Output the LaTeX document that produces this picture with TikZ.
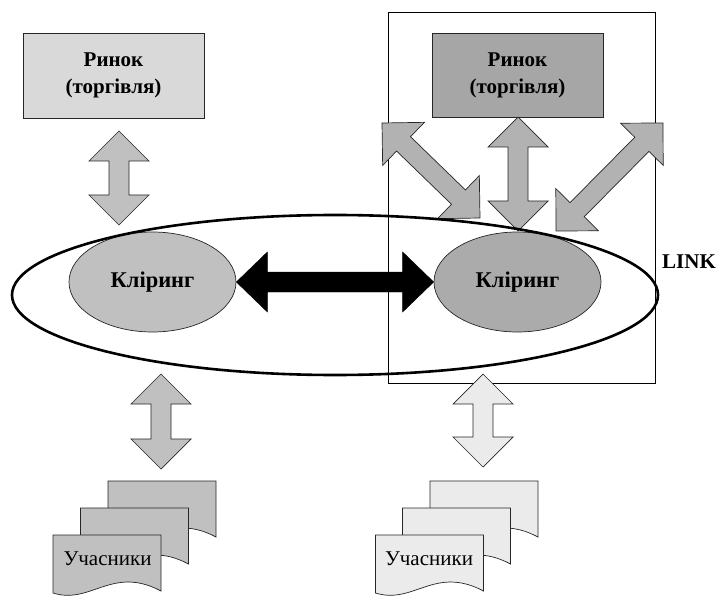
\documentclass[tikz,border=0pt]{standalone}
\usepackage{fontspec}
\setmainfont{Liberation Serif}
\usetikzlibrary{calc,shapes.geometric}
\definecolor{boxL}{HTML}{D9D9D9}
\definecolor{grayL}{HTML}{C0C0C0}
\definecolor{boxR}{HTML}{A6A6A6}
\definecolor{ellR}{HTML}{ABABAB}
\definecolor{arrR}{HTML}{B2B2B2}
\definecolor{lightR}{HTML}{EBEBEB}
\tikzset{
  outl/.style={draw=black!85, line width=0.7pt},
  market/.style={outl, rectangle, minimum width=181pt, minimum height=85pt, align=center, inner sep=0pt,
     font=\fontsize{21}{27}\selectfont\bfseries},
  clearing/.style={outl, ellipse, minimum width=167pt, minimum height=100pt, inner sep=0pt,
     font=\fontsize{22.5}{25}\selectfont\bfseries},
  blockarr/.style={outl, line join=miter},
  doctext/.style={font=\fontsize{21}{25}\selectfont, inner sep=0pt},
}
\newcommand{\dblarrow}[4][30pt]{%
  \coordinate (ha) at ($(#2)!#1!(#3)$);
  \coordinate (hb) at ($(#3)!#1!(#2)$);
  \draw[#4] (#2) -- ($(ha)!30pt!90:(#3)$) -- ($(ha)!10pt!90:(#3)$) -- ($(hb)!10pt!-90:(#2)$)
    -- ($(hb)!30pt!-90:(#2)$) -- (#3) -- ($(hb)!30pt!90:(#2)$) -- ($(hb)!10pt!90:(#2)$)
    -- ($(ha)!10pt!-90:(#3)$) -- ($(ha)!30pt!-90:(#3)$) -- cycle;}
\newcommand{\docpage}[2]{%
  \draw[outl, fill=#2] (#1) -- ++(108,0) -- ++(0,56)
    .. controls ($(#1)+(59,30)$) and ($(#1)+(38,70)$) .. ($(#1)+(0,58)$) -- cycle;}
\begin{document}
\begin{tikzpicture}[x=1pt, y=-1pt]
\useasboundingbox (0,0) rectangle (717,596);
% container
\draw[black, line width=0.7pt] (388,12) rectangle (655,383);
% markets
\node[market, fill=boxL] (mL) at (113.5,75.5) {Ринок\\(торгівля)};
\node[market, fill=boxR, minimum width=171pt, minimum height=84pt] (mR) at (517.5,75) {Ринок\\(торгівля)};
% arrow coordinates
\coordinate (a1s) at (119,131); \coordinate (a1e) at (119,225);
\coordinate (a2s) at (518,117); \coordinate (a2e) at (518,231);
\coordinate (a3s) at (382,123); \coordinate (a3e) at (480,218);
\coordinate (a4s) at (663,123); \coordinate (a4e) at (556,231);
\coordinate (a5s) at (161,374); \coordinate (a5e) at (161,469);
\coordinate (a6s) at (483,374); \coordinate (a6e) at (483,467);
\dblarrow{a1s}{a1e}{blockarr, fill=grayL}
\dblarrow{a2s}{a2e}{blockarr, fill=arrR}
\dblarrow{a3s}{a3e}{blockarr, fill=arrR}
\dblarrow{a4s}{a4e}{blockarr, fill=arrR}
\dblarrow{a5s}{a5e}{blockarr, fill=grayL}
\dblarrow{a6s}{a6e}{blockarr, fill=lightR}
% clearing
\node[clearing, fill=grayL] (kL) at (152.5,282) {Кліринг};
\node[clearing, fill=ellR] (kR) at (517.5,282) {Кліринг};
\dblarrow[31pt]{kL.east}{kR.west}{fill=black, draw=black}
% link ellipse
\draw[line width=2.6pt] (335,295) ellipse [x radius=323, y radius=80];
\node[font=\fontsize{21}{25}\selectfont\bfseries, inner sep=0pt] (link) at (689,262) {LINK};
% participants left
\coordinate (dL1) at (108,481); \coordinate (dL2) at (80.5,508); \coordinate (dL3) at (53,535);
\docpage{dL1}{grayL}
\docpage{dL2}{grayL}
\docpage{dL3}{grayL}
\node[doctext] (uL) at (107.5,559) {Учасники};
% participants right
\coordinate (dR1) at (430,481); \coordinate (dR2) at (402.5,508); \coordinate (dR3) at (375.5,535);
\docpage{dR1}{lightR}
\docpage{dR2}{lightR}
\docpage{dR3}{lightR}
\node[doctext] (uR) at (429,559) {Учасники};
\end{tikzpicture}
\end{document}
